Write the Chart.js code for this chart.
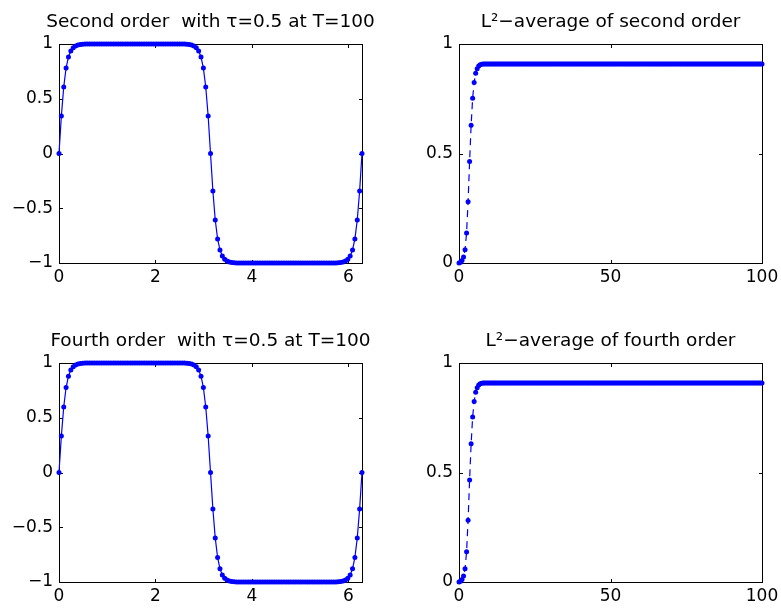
<!DOCTYPE html>
<html>
<head>
<meta charset="utf-8">
<title>Second and fourth order, tau=0.5, T=100</title>
<script src="https://cdn.jsdelivr.net/npm/chart.js@4.4.1/dist/chart.umd.min.js"></script>
<style>
    html, body { margin: 0; padding: 0; background: #ffffff; overflow: hidden; }
    #fig { position: relative; width: 781px; height: 611px; overflow: hidden; }
    #fig canvas { position: absolute; }
</style>
</head>
<body>
<div id="fig">
    <!-- each canvas is centred on its axes box so the title centres over the box -->
    <canvas id="profileSecond" width="421" height="300" style="left:0px;top:0px"></canvas>
    <canvas id="averageSecond" width="381" height="300" style="left:420px;top:0px"></canvas>
    <canvas id="profileFourth" width="421" height="292" style="left:0px;top:319px"></canvas>
    <canvas id="averageFourth" width="381" height="292" style="left:420px;top:319px"></canvas>
</div>
<script>
// Grid on [0, 2*pi], 128 intervals
const xGrid = [
    0, 0.049, 0.098, 0.147, 0.196, 0.245, 0.295, 0.344, 0.393, 0.442, 0.491, 0.540, 0.589, 0.638, 0.687, 0.736,
    0.785, 0.834, 0.884, 0.933, 0.982, 1.031, 1.080, 1.129, 1.178, 1.227, 1.276, 1.325, 1.374, 1.424, 1.473, 1.522,
    1.571, 1.620, 1.669, 1.718, 1.767, 1.816, 1.865, 1.914, 1.963, 2.013, 2.062, 2.111, 2.160, 2.209, 2.258, 2.307,
    2.356, 2.405, 2.454, 2.503, 2.553, 2.602, 2.651, 2.700, 2.749, 2.798, 2.847, 2.896, 2.945, 2.994, 3.043, 3.093,
    3.142, 3.191, 3.240, 3.289, 3.338, 3.387, 3.436, 3.485, 3.534, 3.583, 3.632, 3.682, 3.731, 3.780, 3.829, 3.878,
    3.927, 3.976, 4.025, 4.074, 4.123, 4.172, 4.222, 4.271, 4.320, 4.369, 4.418, 4.467, 4.516, 4.565, 4.614, 4.663,
    4.712, 4.761, 4.811, 4.860, 4.909, 4.958, 5.007, 5.056, 5.105, 5.154, 5.203, 5.252, 5.301, 5.351, 5.400, 5.449,
    5.498, 5.547, 5.596, 5.645, 5.694, 5.743, 5.792, 5.841, 5.890, 5.940, 5.989, 6.038, 6.087, 6.136, 6.185, 6.234,
    6.283
];

// Solution at T=100, second order scheme
const uSecond = [
    0, 0.342, 0.607, 0.780, 0.882, 0.936, 0.966, 0.982, 0.991, 0.996, 0.998, 0.999,
    1, 1, 1, 1, 1, 1, 1, 1, 1, 1,
    1, 1, 1, 1, 1, 1, 1, 1, 1, 1,
    1, 1, 1, 1, 1, 1, 1, 1, 1, 1,
    1, 1, 1, 1, 1, 1, 1, 1, 1, 1, 1,
    0.999, 0.998, 0.996, 0.991, 0.982, 0.966, 0.936, 0.882, 0.780, 0.607, 0.342, 0,
    -0.342, -0.607, -0.780, -0.882, -0.936, -0.966, -0.982, -0.991, -0.996, -0.998, -0.999,
    -1, -1, -1, -1, -1, -1, -1, -1, -1, -1,
    -1, -1, -1, -1, -1, -1, -1, -1, -1, -1,
    -1, -1, -1, -1, -1, -1, -1, -1, -1, -1,
    -1, -1, -1, -1, -1, -1, -1, -1, -1, -1, -1,
    -0.999, -0.998, -0.996, -0.991, -0.982, -0.966, -0.936, -0.882, -0.780, -0.607, -0.342, 0
];

// Solution at T=100, fourth order scheme
const uFourth = [
    0, 0.333, 0.598, 0.776, 0.880, 0.935, 0.965, 0.982, 0.991, 0.996, 0.998, 0.999,
    1, 1, 1, 1, 1, 1, 1, 1, 1, 1,
    1, 1, 1, 1, 1, 1, 1, 1, 1, 1,
    1, 1, 1, 1, 1, 1, 1, 1, 1, 1,
    1, 1, 1, 1, 1, 1, 1, 1, 1, 1, 1,
    0.999, 0.998, 0.996, 0.991, 0.982, 0.965, 0.935, 0.880, 0.776, 0.598, 0.333, 0,
    -0.333, -0.598, -0.776, -0.880, -0.935, -0.965, -0.982, -0.991, -0.996, -0.998, -0.999,
    -1, -1, -1, -1, -1, -1, -1, -1, -1, -1,
    -1, -1, -1, -1, -1, -1, -1, -1, -1, -1,
    -1, -1, -1, -1, -1, -1, -1, -1, -1, -1,
    -1, -1, -1, -1, -1, -1, -1, -1, -1, -1, -1,
    -0.999, -0.998, -0.996, -0.991, -0.982, -0.965, -0.935, -0.880, -0.776, -0.598, -0.333, 0
];

// Time steps, tau = 0.5
const tGrid = [
    0, 0.5, 1, 1.5, 2, 2.5, 3, 3.5, 4, 4.5, 5, 5.5, 6, 6.5, 7, 7.5, 8, 8.5, 9, 9.5,
    10, 10.5, 11, 11.5, 12, 12.5, 13, 13.5, 14, 14.5, 15, 15.5, 16, 16.5, 17, 17.5, 18, 18.5, 19, 19.5,
    20, 20.5, 21, 21.5, 22, 22.5, 23, 23.5, 24, 24.5, 25, 25.5, 26, 26.5, 27, 27.5, 28, 28.5, 29, 29.5,
    30, 30.5, 31, 31.5, 32, 32.5, 33, 33.5, 34, 34.5, 35, 35.5, 36, 36.5, 37, 37.5, 38, 38.5, 39, 39.5,
    40, 40.5, 41, 41.5, 42, 42.5, 43, 43.5, 44, 44.5, 45, 45.5, 46, 46.5, 47, 47.5, 48, 48.5, 49, 49.5,
    50, 50.5, 51, 51.5, 52, 52.5, 53, 53.5, 54, 54.5, 55, 55.5, 56, 56.5, 57, 57.5, 58, 58.5, 59, 59.5,
    60, 60.5, 61, 61.5, 62, 62.5, 63, 63.5, 64, 64.5, 65, 65.5, 66, 66.5, 67, 67.5, 68, 68.5, 69, 69.5,
    70, 70.5, 71, 71.5, 72, 72.5, 73, 73.5, 74, 74.5, 75, 75.5, 76, 76.5, 77, 77.5, 78, 78.5, 79, 79.5,
    80, 80.5, 81, 81.5, 82, 82.5, 83, 83.5, 84, 84.5, 85, 85.5, 86, 86.5, 87, 87.5, 88, 88.5, 89, 89.5,
    90, 90.5, 91, 91.5, 92, 92.5, 93, 93.5, 94, 94.5, 95, 95.5, 96, 96.5, 97, 97.5, 98, 98.5, 99, 99.5,
    100
];

// L2-average over time, second order
const l2Second = [
    0, 0.003, 0.011, 0.027, 0.060, 0.137, 0.280, 0.463, 0.629, 0.752, 0.824, 0.866, 0.887, 0.899, 0.905, 0.908, 0.909, 0.909, 0.909, 0.909,
    0.909, 0.909, 0.909, 0.909, 0.909, 0.909, 0.909, 0.909, 0.909, 0.909, 0.909, 0.909, 0.909, 0.909, 0.909, 0.909, 0.909, 0.909, 0.909, 0.909,
    0.909, 0.909, 0.909, 0.909, 0.909, 0.909, 0.909, 0.909, 0.909, 0.909, 0.909, 0.909, 0.909, 0.909, 0.909, 0.909, 0.909, 0.909, 0.909, 0.909,
    0.909, 0.909, 0.909, 0.909, 0.909, 0.909, 0.909, 0.909, 0.909, 0.909, 0.909, 0.909, 0.909, 0.909, 0.909, 0.909, 0.909, 0.909, 0.909, 0.909,
    0.909, 0.909, 0.909, 0.909, 0.909, 0.909, 0.909, 0.909, 0.909, 0.909, 0.909, 0.909, 0.909, 0.909, 0.909, 0.909, 0.909, 0.909, 0.909, 0.909,
    0.909, 0.909, 0.909, 0.909, 0.909, 0.909, 0.909, 0.909, 0.909, 0.909, 0.909, 0.909, 0.909, 0.909, 0.909, 0.909, 0.909, 0.909, 0.909, 0.909,
    0.909, 0.909, 0.909, 0.909, 0.909, 0.909, 0.909, 0.909, 0.909, 0.909, 0.909, 0.909, 0.909, 0.909, 0.909, 0.909, 0.909, 0.909, 0.909, 0.909,
    0.909, 0.909, 0.909, 0.909, 0.909, 0.909, 0.909, 0.909, 0.909, 0.909, 0.909, 0.909, 0.909, 0.909, 0.909, 0.909, 0.909, 0.909, 0.909, 0.909,
    0.909, 0.909, 0.909, 0.909, 0.909, 0.909, 0.909, 0.909, 0.909, 0.909, 0.909, 0.909, 0.909, 0.909, 0.909, 0.909, 0.909, 0.909, 0.909, 0.909,
    0.909, 0.909, 0.909, 0.909, 0.909, 0.909, 0.909, 0.909, 0.909, 0.909, 0.909, 0.909, 0.909, 0.909, 0.909, 0.909, 0.909, 0.909, 0.909, 0.909,
    0.909
];

// L2-average over time, fourth order
const l2Fourth = [
    0, 0.003, 0.011, 0.027, 0.061, 0.138, 0.282, 0.466, 0.631, 0.753, 0.824, 0.866, 0.887, 0.899, 0.905, 0.908, 0.909, 0.909, 0.909, 0.909,
    0.909, 0.909, 0.909, 0.909, 0.909, 0.909, 0.909, 0.909, 0.909, 0.909, 0.909, 0.909, 0.909, 0.909, 0.909, 0.909, 0.909, 0.909, 0.909, 0.909,
    0.909, 0.909, 0.909, 0.909, 0.909, 0.909, 0.909, 0.909, 0.909, 0.909, 0.909, 0.909, 0.909, 0.909, 0.909, 0.909, 0.909, 0.909, 0.909, 0.909,
    0.909, 0.909, 0.909, 0.909, 0.909, 0.909, 0.909, 0.909, 0.909, 0.909, 0.909, 0.909, 0.909, 0.909, 0.909, 0.909, 0.909, 0.909, 0.909, 0.909,
    0.909, 0.909, 0.909, 0.909, 0.909, 0.909, 0.909, 0.909, 0.909, 0.909, 0.909, 0.909, 0.909, 0.909, 0.909, 0.909, 0.909, 0.909, 0.909, 0.909,
    0.909, 0.909, 0.909, 0.909, 0.909, 0.909, 0.909, 0.909, 0.909, 0.909, 0.909, 0.909, 0.909, 0.909, 0.909, 0.909, 0.909, 0.909, 0.909, 0.909,
    0.909, 0.909, 0.909, 0.909, 0.909, 0.909, 0.909, 0.909, 0.909, 0.909, 0.909, 0.909, 0.909, 0.909, 0.909, 0.909, 0.909, 0.909, 0.909, 0.909,
    0.909, 0.909, 0.909, 0.909, 0.909, 0.909, 0.909, 0.909, 0.909, 0.909, 0.909, 0.909, 0.909, 0.909, 0.909, 0.909, 0.909, 0.909, 0.909, 0.909,
    0.909, 0.909, 0.909, 0.909, 0.909, 0.909, 0.909, 0.909, 0.909, 0.909, 0.909, 0.909, 0.909, 0.909, 0.909, 0.909, 0.909, 0.909, 0.909, 0.909,
    0.909, 0.909, 0.909, 0.909, 0.909, 0.909, 0.909, 0.909, 0.909, 0.909, 0.909, 0.909, 0.909, 0.909, 0.909, 0.909, 0.909, 0.909, 0.909, 0.909,
    0.909
];

// Tick values
const profileXTicks = [0, 2, 4, 6];
const profileYTicks = [-1, -0.5, 0, 0.5, 1];
const averageXTicks = [0, 50, 100];
const averageYTicks = [0, 0.5, 1];

const BLUE = '#0000ff';
const FONT = "'DejaVu Sans', sans-serif";

// MATLAB-like box with inward ticks on all four sides
const boxTicksPlugin = {
    id: 'boxTicks',
    beforeDatasetsDraw(chart) {
        const ctx = chart.ctx;
        const a = chart.chartArea;
        const xs = chart.scales.x;
        const ys = chart.scales.y;
        const len = 3;
        ctx.save();
        ctx.strokeStyle = '#000000';
        ctx.lineWidth = 1;
        ctx.strokeRect(a.left + 0.5, a.top + 0.5, a.right - a.left, a.bottom - a.top);
        ctx.beginPath();
        xs.ticks.forEach(t => {
            const px = Math.round(xs.getPixelForValue(t.value)) + 0.5;
            ctx.moveTo(px, a.bottom);
            ctx.lineTo(px, a.bottom - len);
            ctx.moveTo(px, a.top + 1);
            ctx.lineTo(px, a.top + 1 + len);
        });
        ys.ticks.forEach(t => {
            const py = Math.round(ys.getPixelForValue(t.value)) + 0.5;
            ctx.moveTo(a.left + 1, py);
            ctx.lineTo(a.left + 1 + len, py);
            ctx.moveTo(a.right, py);
            ctx.lineTo(a.right - len, py);
        });
        ctx.stroke();
        ctx.restore();
    }
};

function formatTick(value) {
    if (value < 0) {
        return '\u2212' + Math.abs(value);
    }
    return String(value);
}

function makePanel(canvasId, opts) {
    const canvas = document.getElementById(canvasId);
    const ctx = canvas.getContext('2d');

    return new Chart(ctx, {
        type: 'scatter',
        data: {
            datasets: [{
                data: opts.xs.map((x, i) => ({ x: x, y: opts.ys[i] })),
                showLine: true,
                borderColor: BLUE,
                backgroundColor: BLUE,
                borderWidth: 1.2,
                borderDash: opts.dash,
                pointRadius: 2.5,
                pointBorderWidth: 0,
                pointBackgroundColor: BLUE,
                tension: 0,
                clip: false
            }]
        },
        options: {
            responsive: false,
            animation: false,
            devicePixelRatio: 1,
            layout: { padding: 0 },
            plugins: {
                legend: { display: false },
                tooltip: { enabled: false },
                title: {
                    display: true,
                    text: opts.title,
                    color: '#000000',
                    font: { family: FONT, size: 18.5, weight: 'normal', lineHeight: 1.2 },
                    padding: { top: 11, bottom: 10.8 }
                }
            },
            scales: {
                x: {
                    type: 'linear',
                    min: opts.xMin,
                    max: opts.xMax,
                    grid: { display: false, drawTicks: false },
                    border: { display: false },
                    afterBuildTicks: scale => {
                        scale.ticks = opts.xTicks.map(v => ({ value: v }));
                    },
                    afterFit: scale => {
                        scale.height = opts.xAxisHeight;
                    },
                    ticks: {
                        color: '#000000',
                        font: { family: FONT, size: 17 },
                        padding: 4,
                        maxRotation: 0,
                        autoSkip: false,
                        callback: formatTick
                    }
                },
                y: {
                    type: 'linear',
                    min: opts.yMin,
                    max: opts.yMax,
                    grid: { display: false, drawTicks: false },
                    border: { display: false },
                    afterBuildTicks: scale => {
                        scale.ticks = opts.yTicks.map(v => ({ value: v }));
                    },
                    afterFit: scale => {
                        scale.width = opts.sideWidth;
                    },
                    ticks: {
                        color: '#000000',
                        font: { family: FONT, size: 17 },
                        padding: 6,
                        autoSkip: false,
                        callback: formatTick
                    }
                },
                // empty right-hand spacer, same width as the left axis
                yRight: {
                    type: 'linear',
                    position: 'right',
                    grid: { display: false, drawTicks: false },
                    border: { display: false },
                    ticks: { display: false },
                    afterFit: scale => {
                        scale.width = opts.sideWidth;
                    }
                }
            }
        },
        plugins: [boxTicksPlugin]
    });
}

makePanel('profileSecond', {
    title: 'Second order  with \u03c4=0.5 at T=100',
    xs: xGrid, ys: uSecond,
    xMin: 0, xMax: 6.2832, yMin: -1, yMax: 1,
    xTicks: profileXTicks, yTicks: profileYTicks,
    dash: [], sideWidth: 59, xAxisHeight: 37
});

makePanel('averageSecond', {
    title: 'L\u00b2\u2212average of second order',
    xs: tGrid, ys: l2Second,
    xMin: 0, xMax: 100, yMin: 0, yMax: 1,
    xTicks: averageXTicks, yTicks: averageYTicks,
    dash: [7, 5], sideWidth: 39, xAxisHeight: 37
});

makePanel('profileFourth', {
    title: 'Fourth order  with \u03c4=0.5 at T=100',
    xs: xGrid, ys: uFourth,
    xMin: 0, xMax: 6.2832, yMin: -1, yMax: 1,
    xTicks: profileXTicks, yTicks: profileYTicks,
    dash: [], sideWidth: 59, xAxisHeight: 29
});

makePanel('averageFourth', {
    title: 'L\u00b2\u2212average of fourth order',
    xs: tGrid, ys: l2Fourth,
    xMin: 0, xMax: 100, yMin: 0, yMax: 1,
    xTicks: averageXTicks, yTicks: averageYTicks,
    dash: [7, 5], sideWidth: 39, xAxisHeight: 29
});
</script>
</body>
</html>
